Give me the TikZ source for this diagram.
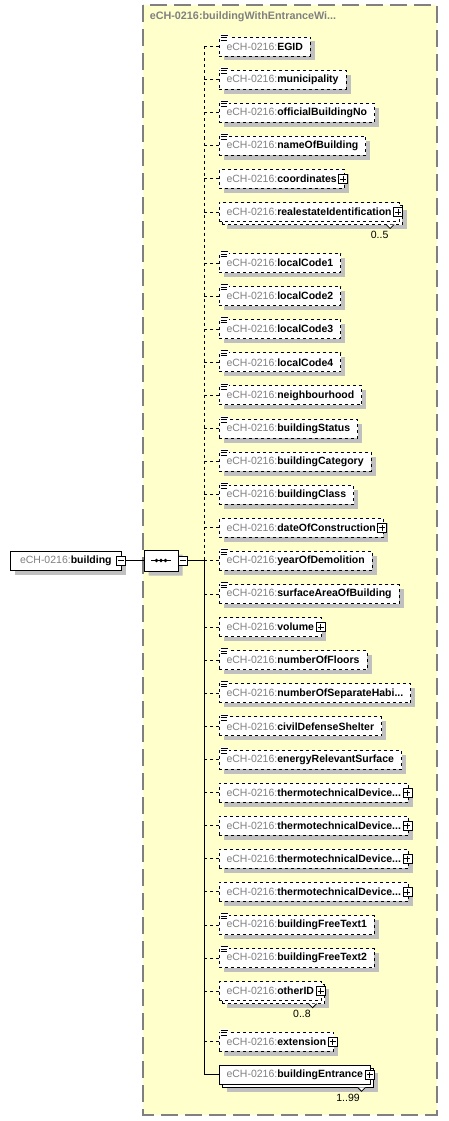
\documentclass[tikz,border=0pt]{standalone}
\usepackage{fontspec}
\setmainfont{Liberation Sans}
\usetikzlibrary{positioning, shapes.misc, shadows}
\definecolor{pfxgray}{RGB}{128,128,128}
\definecolor{shadegray}{RGB}{192,192,192}
\definecolor{groupyellow}{RGB}{255,255,204}
\newcommand{\ech}[1]{{\color{pfxgray}eCH-0216:}\textbf{#1}}
\newcommand{\simpleicon}[1]{%
  \fill[white] ([xshift=0.5pt,yshift=3pt]#1.north west) rectangle ([xshift=9.5pt,yshift=-4pt]#1.north west);
  \draw[solid, line width=0.8pt] ([xshift=1.5pt,yshift=2pt]#1.north west) -- ++(7pt,0pt)
    ([xshift=1.5pt,yshift=-0.5pt]#1.north west) -- ++(6pt,0pt)
    ([xshift=1.5pt,yshift=-3pt]#1.north west) -- ++(6pt,0pt);}
\newcommand{\manynotch}[1]{%
  \draw[solid, fill=white, line width=0.8pt] ([xshift=-13pt,yshift=-3pt]#1.south east) -- ++(4pt,-4pt) -- ++(4pt,4pt);}

\begin{document}
\begin{tikzpicture}[
    x=1pt, y=-1pt,
    line width=0.9pt,
    every node/.style={font=\fontsize{10.5}{12}\selectfont},
    elbox/.style={rectangle, draw=black, fill=white, minimum height=19pt, inner xsep=7.5pt, inner ysep=2pt, outer sep=0pt, anchor=west,
      drop shadow={shadow xshift=4.5pt, shadow yshift=-4.5pt, fill=shadegray, draw=none, opacity=1}},
    optbox/.style={elbox, dashed},
    multibox/.style={rectangle, draw=black, fill=white, minimum height=19pt, inner xsep=7.5pt, inner ysep=2pt, outer sep=0pt, anchor=west,
      drop shadow={shadow xshift=7.5pt, shadow yshift=-7.5pt, fill=shadegray, draw=none, opacity=1},
      copy shadow={shadow xshift=3pt, shadow yshift=-3pt}},
    nextrow/.style={below=14.1pt of #1.south west, anchor=north west},
    expander/.style={rectangle, draw=black, solid, fill=white, minimum size=9pt, inner sep=0pt, line width=0.8pt},
    plusbox/.style={expander, path picture={
      \draw ([xshift=-3pt]path picture bounding box.center) -- ([xshift=3pt]path picture bounding box.center)
            ([yshift=-3pt]path picture bounding box.center) -- ([yshift=3pt]path picture bounding box.center);}},
    minusbox/.style={expander, path picture={
      \draw ([xshift=-3pt]path picture bounding box.center) -- ([xshift=3pt]path picture bounding box.center);}},
    seqbox/.style={chamfered rectangle, chamfered rectangle xsep=7pt, chamfered rectangle ysep=7pt, draw=black, fill=white,
      minimum width=34pt, minimum height=21pt, inner sep=0pt, outer sep=0pt,
      drop shadow={shadow xshift=4.5pt, shadow yshift=-4.5pt, fill=shadegray, draw=none, opacity=1}},
    optline/.style={dashed},
    manylabel/.style={anchor=base east}
]
\useasboundingbox (0,0) rectangle (448,1121);

% group frame
\path[draw=pfxgray, fill=groupyellow, line width=1.6pt, dash pattern=on 17pt off 7pt] (143,5) rectangle (437,1115);
\node (grouptitle) [anchor=west, text=pfxgray, font=\fontsize{10.8}{12}\selectfont\bfseries] at (146,17) {eCH-0216:buildingWithEntranceWi...};

% root element and sequence
\node (bld) [elbox, inner xsep=10pt] at (10,560.5) {\ech{building}\hspace{2pt}};
\node (bldx) [minusbox] at ([xshift=-0.5pt]bld.east) {};
\node (seq) [seqbox, right=18pt of bldx] {};
\node (seqx) [minusbox, right=0pt of seq] {};
\coordinate (trunk) at (seqx.east -| 204,0);
\draw ([xshift=-10pt]seq.center) -- ([xshift=10pt]seq.center);
\fill ([xshift=-4.5pt]seq.center) circle (1.8pt) (seq.center) circle (1.8pt) ([xshift=4.5pt]seq.center) circle (1.8pt);

% children
\node (egid) [optbox] at (219,46.5) {\ech{EGID}};
\node (muni) [optbox, nextrow=egid] {\ech{municipality}};
\node (offno) [optbox, nextrow=muni] {\ech{officialBuildingNo}};
\node (bname) [optbox, nextrow=offno] {\ech{nameOfBuilding}};
\node (coord) [optbox, nextrow=bname] {\ech{coordinates}\hspace{5pt}};
\node (reid) [multibox, dashed, nextrow=coord] {\ech{realestateIdentification}\hspace{5pt}};
\node (lc1) [optbox, below=32pt of reid.south west, anchor=north west] {\ech{localCode1}};
\node (lc2) [optbox, nextrow=lc1] {\ech{localCode2}};
\node (lc3) [optbox, nextrow=lc2] {\ech{localCode3}};
\node (lc4) [optbox, nextrow=lc3] {\ech{localCode4}};
\node (nbh) [optbox, nextrow=lc4] {\ech{neighbourhood}};
\node (bstat) [optbox, nextrow=nbh] {\ech{buildingStatus}};
\node (bcat) [optbox, nextrow=bstat] {\ech{buildingCategory}};
\node (bclass) [optbox, nextrow=bcat] {\ech{buildingClass}};
\node (doc) [optbox, nextrow=bclass] {\ech{dateOfConstruction}\hspace{5pt}};
\node (yod) [optbox, nextrow=doc] {\ech{yearOfDemolition}};
\node (surf) [optbox, nextrow=yod] {\ech{surfaceAreaOfBuilding}};
\node (vol) [optbox, nextrow=surf] {\ech{volume}\hspace{5pt}};
\node (nfl) [optbox, nextrow=vol] {\ech{numberOfFloors}};
\node (nsh) [optbox, nextrow=nfl] {\ech{numberOfSeparateHabi...}};
\node (cds) [optbox, nextrow=nsh] {\ech{civilDefenseShelter}};
\node (ers) [optbox, nextrow=cds] {\ech{energyRelevantSurface}};
\node (td1) [optbox, nextrow=ers] {\ech{thermotechnicalDevice...}\hspace{5pt}};
\node (td2) [optbox, nextrow=td1] {\ech{thermotechnicalDevice...}\hspace{5pt}};
\node (td3) [optbox, nextrow=td2] {\ech{thermotechnicalDevice...}\hspace{5pt}};
\node (td4) [optbox, nextrow=td3] {\ech{thermotechnicalDevice...}\hspace{5pt}};
\node (ft1) [optbox, nextrow=td4] {\ech{buildingFreeText1}};
\node (ft2) [optbox, nextrow=ft1] {\ech{buildingFreeText2}};
\node (oid) [multibox, dashed, nextrow=ft2] {\ech{otherID}\hspace{5pt}};
\node (ext) [optbox, below=31.5pt of oid.south west, anchor=north west] {\ech{extension}\hspace{5pt}};
\node (bent) [multibox, nextrow=ext] {\ech{buildingEntrance}\hspace{5pt}};

% expand boxes
\node (coordx) [plusbox] at ([xshift=-1pt]coord.east) {};
\node (reidx) [plusbox] at ([xshift=-1pt]reid.east) {};
\node (docx) [plusbox] at ([xshift=-1pt]doc.east) {};
\node (volx) [plusbox] at ([xshift=-1pt]vol.east) {};
\node (td1x) [plusbox] at ([xshift=-1pt]td1.east) {};
\node (td2x) [plusbox] at ([xshift=-1pt]td2.east) {};
\node (td3x) [plusbox] at ([xshift=-1pt]td3.east) {};
\node (td4x) [plusbox] at ([xshift=-1pt]td4.east) {};
\node (oidx) [plusbox] at ([xshift=-1pt]oid.east) {};
\node (extx) [plusbox] at ([xshift=-1pt]ext.east) {};
\node (bentx) [plusbox] at ([xshift=-1pt]bent.east) {};

% simple type icons
\simpleicon{egid} \simpleicon{muni} \simpleicon{offno} \simpleicon{bname}
\simpleicon{lc1} \simpleicon{lc2} \simpleicon{lc3} \simpleicon{lc4}
\simpleicon{nbh} \simpleicon{bstat} \simpleicon{bcat} \simpleicon{bclass}
\simpleicon{yod} \simpleicon{surf} \simpleicon{nfl} \simpleicon{nsh}
\simpleicon{cds} \simpleicon{ers} \simpleicon{ft1} \simpleicon{ft2} \simpleicon{ext}

% occurrences
\manynotch{reid} \manynotch{oid} \manynotch{bent}
\node (reidn) [manylabel] at ([xshift=-7pt,yshift=-16.8pt]reid.south east) {0..5};
\node (oidn) [manylabel] at ([xshift=-7pt,yshift=-16.8pt]oid.south east) {0..8};
\node (bentn) [manylabel] at ([xshift=-7pt,yshift=-16.8pt]bent.south east) {1..99};

% connectors
\draw (bldx.east) -- (seq.west);
\draw (seqx.east) -- (trunk);
\draw[optline] (egid.west -| trunk) -- (trunk);
\draw (trunk) -- (bent.west -| trunk);
\draw[optline] (egid.west) -- (egid.west -| trunk);
\draw[optline] (muni.west) -- (muni.west -| trunk);
\draw[optline] (offno.west) -- (offno.west -| trunk);
\draw[optline] (bname.west) -- (bname.west -| trunk);
\draw[optline] (coord.west) -- (coord.west -| trunk);
\draw[optline] (reid.west) -- (reid.west -| trunk);
\draw[optline] (lc1.west) -- (lc1.west -| trunk);
\draw[optline] (lc2.west) -- (lc2.west -| trunk);
\draw[optline] (lc3.west) -- (lc3.west -| trunk);
\draw[optline] (lc4.west) -- (lc4.west -| trunk);
\draw[optline] (nbh.west) -- (nbh.west -| trunk);
\draw[optline] (bstat.west) -- (bstat.west -| trunk);
\draw[optline] (bcat.west) -- (bcat.west -| trunk);
\draw[optline] (bclass.west) -- (bclass.west -| trunk);
\draw[optline] (doc.west) -- (doc.west -| trunk);
\draw[optline] (yod.west) -- (yod.west -| trunk);
\draw[optline] (surf.west) -- (surf.west -| trunk);
\draw[optline] (vol.west) -- (vol.west -| trunk);
\draw[optline] (nfl.west) -- (nfl.west -| trunk);
\draw[optline] (nsh.west) -- (nsh.west -| trunk);
\draw[optline] (cds.west) -- (cds.west -| trunk);
\draw[optline] (ers.west) -- (ers.west -| trunk);
\draw[optline] (td1.west) -- (td1.west -| trunk);
\draw[optline] (td2.west) -- (td2.west -| trunk);
\draw[optline] (td3.west) -- (td3.west -| trunk);
\draw[optline] (td4.west) -- (td4.west -| trunk);
\draw[optline] (ft1.west) -- (ft1.west -| trunk);
\draw[optline] (ft2.west) -- (ft2.west -| trunk);
\draw[optline] (oid.west) -- (oid.west -| trunk);
\draw[optline] (ext.west) -- (ext.west -| trunk);
\draw (bent.west) -- (bent.west -| trunk);
\end{tikzpicture}
\end{document}
